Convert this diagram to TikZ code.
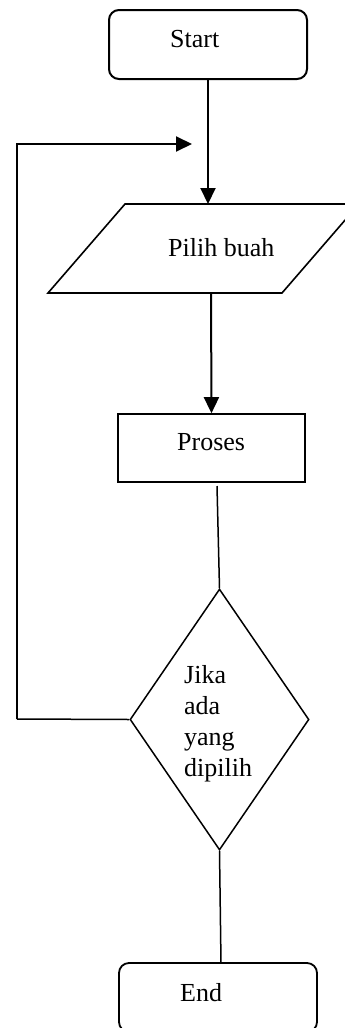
\documentclass[tikz,border=0pt]{standalone}
\usepackage{fontspec}
\setmainfont{Liberation Serif}
\usetikzlibrary{arrows.meta,shapes.geometric}

\begin{document}
\begin{tikzpicture}[x=1pt,y=-1pt,
  every node/.style={font=\fontsize{26}{30.7}\selectfont},
  terminal/.style={draw,rounded corners=10pt,line width=2pt,minimum width=198pt,minimum height=69pt,inner sep=0pt},
  procbox/.style={draw,line width=1.6pt,minimum width=187pt,minimum height=68pt,inner sep=0pt},
  decision/.style={draw,diamond,line width=1.5pt,minimum width=179pt,minimum height=261pt,inner sep=0pt},
  label/.style={anchor=base west,inner sep=0pt},
  flow/.style={line width=2pt,-{Triangle[length=16pt,width=15pt]}},
  link/.style={line width=1.5pt}
]
\clip (0,0) rectangle (345,1028);
\useasboundingbox (0,0) rectangle (345,1028);

% start terminal
\node[terminal] (start) at (208,44.5) {};
\node[label] (tstart) at (170,47) {Start};

% input parallelogram
\coordinate (inTL) at (125,204);
\coordinate (inTR) at (359,204);
\coordinate (inBR) at (282,293);
\coordinate (inBL) at (48,293);
\coordinate (inTop) at (208,204);
\coordinate (inBot) at (211,293);
\draw[line width=1.6pt,line join=miter] (inTL) -- (inTR) -- (inBR) -- (inBL) -- cycle;
\node[label] (tin) at (168,256) {Pilih buah};

% process box
\node[procbox] (proc) at (211.5,448) {};
\node[label] (tproc) at (177,450) {Proses};

% decision (the multi-line label sits on the baseline of its last line)
\node[decision] (dec) at (219.5,719.5) {};
\node[label,align=left] (tdec) at (184,776) {Jika\\ada\\yang\\dipilih};

% end terminal
\node[terminal,line width=1.8pt] (end) at (218,997.5) {};
\node[label] (tend) at (180,1001) {End};

% connectors
\draw[flow] (start.south) -- (inTop);
\draw[flow] (inBot) -- (proc.north);
\coordinate (procOut) at (217,486);
\draw[link] (procOut) -- (dec.north);
\coordinate (endIn) at (221,963);
\draw[link] (dec.south) -- (endIn);

% loop back
\coordinate (loopB) at (17,719);
\coordinate (loopT) at (17,144);
\coordinate (loopEnd) at (192,144);
\draw[link] (dec.west) -- (loopB);
\draw[flow,line join=miter] (loopB) -- (loopT) -- (loopEnd);
\end{tikzpicture}
\end{document}
